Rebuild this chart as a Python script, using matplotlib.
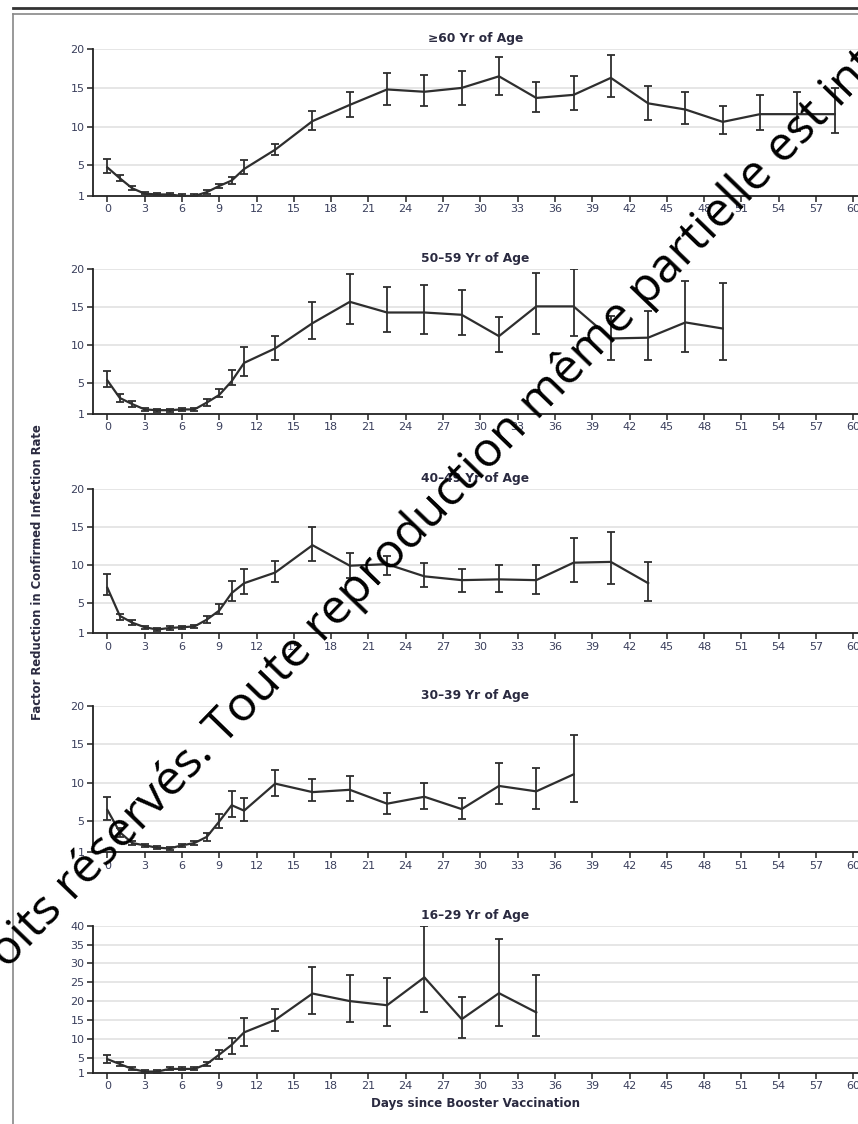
import numpy as np
import matplotlib

matplotlib.use("Agg")
from matplotlib import pyplot as plt
from matplotlib.lines import Line2D
from matplotlib.textpath import TextPath
from matplotlib.font_manager import FontProperties

# days after booster (x positions of the points)
days = [0, 1, 2, 3, 4, 5, 6, 7, 8, 9, 10, 11,
        13.5, 16.5, 19.5, 22.5, 25.5, 28.5, 31.5, 34.5, 37.5,
        40.5, 43.5, 46.5, 49.5, 52.5, 55.5, 58.5]

titles = ['\u226560 Yr of Age', '50\u201359 Yr of Age', '40\u201349 Yr of Age',
          '30\u201339 Yr of Age', '16\u201329 Yr of Age']

# factor reduction, lower and upper CI for each age group
age60_val = [4.7, 3.3, 2.0, 1.3, 1.2, 1.2, 1.0, 1.0, 1.5, 2.3, 3.0, 4.5,
             7.0, 10.7, 12.8, 14.8, 14.5, 15.0, 16.5, 13.7, 14.1,
             16.3, 13.0, 12.2, 10.6, 11.6, 11.6, 11.6]
age60_lo = [4.0, 2.9, 1.8, 1.2, 1.1, 1.1, 0.9, 0.9, 1.3, 2.0, 2.6, 3.8,
            6.3, 9.5, 11.2, 12.8, 12.7, 12.8, 14.1, 11.9, 12.2,
            13.8, 10.9, 10.3, 9.0, 9.5, 9.4, 9.1]
age60_hi = [5.8, 3.7, 2.3, 1.5, 1.4, 1.4, 1.2, 1.2, 1.8, 2.6, 3.5, 5.6,
            7.7, 12.0, 14.5, 16.9, 16.7, 17.2, 19.0, 15.8, 16.5,
            19.3, 15.2, 14.5, 12.6, 14.1, 14.5, 15.0]

age50_val = [5.4, 3.1, 2.3, 1.6, 1.5, 1.5, 1.6, 1.6, 2.5, 3.5, 5.3, 7.7,
             9.6, 12.9, 15.7, 14.3, 14.3, 14.0, 11.2, 15.1, 15.1,
             10.9, 11.0, 13.0, 12.2]
age50_lo = [4.5, 2.6, 1.9, 1.4, 1.3, 1.3, 1.4, 1.4, 2.1, 3.2, 4.8, 6.0,
            8.1, 10.8, 12.8, 11.7, 11.5, 11.3, 9.1, 11.5, 11.2,
            8.1, 8.1, 9.1, 8.1]
age50_hi = [6.6, 3.6, 2.7, 1.8, 1.7, 1.7, 1.8, 1.8, 3.0, 4.3, 6.8, 9.8,
            11.2, 15.7, 19.3, 17.6, 17.9, 17.3, 13.7, 19.5, 20.0,
            13.9, 14.5, 18.4, 18.1]

age40_val = [7.0, 3.3, 2.4, 1.8, 1.5, 1.7, 1.8, 1.9, 2.8, 4.0, 6.3, 7.6,
             9.0, 12.6, 9.9, 10.1, 8.5, 8.0, 8.1, 8.0, 10.3,
             10.4, 7.6]
age40_lo = [6.0, 2.7, 2.1, 1.6, 1.3, 1.5, 1.6, 1.7, 2.4, 3.6, 5.3, 6.2,
            7.8, 10.5, 8.3, 8.7, 7.1, 6.5, 6.5, 6.2, 7.8,
            7.5, 5.3]
age40_hi = [8.8, 3.6, 2.7, 2.0, 1.7, 1.9, 2.0, 2.1, 3.3, 4.9, 7.9, 9.5,
            10.5, 15.0, 11.6, 11.2, 10.3, 9.5, 10.0, 10.0, 13.5,
            14.3, 10.4]

age30_val = [6.5, 3.6, 2.2, 1.9, 1.6, 1.5, 1.9, 2.2, 3.0, 5.0, 7.1, 6.4,
             9.9, 8.8, 9.1, 7.3, 8.2, 6.6, 9.6, 8.9, 11.1]
age30_lo = [5.2, 3.0, 1.9, 1.7, 1.4, 1.3, 1.7, 1.9, 2.5, 4.1, 5.6, 5.0,
            8.3, 7.6, 7.6, 6.0, 6.6, 5.3, 7.3, 6.6, 7.5]
age30_hi = [8.2, 4.2, 2.5, 2.1, 1.8, 1.7, 2.1, 2.5, 3.5, 5.9, 9.0, 8.0,
            11.7, 10.5, 10.9, 8.7, 10.0, 8.0, 12.6, 11.9, 16.2]

age16_val = [4.6, 3.3, 2.0, 1.3, 1.3, 2.0, 2.0, 2.0, 3.3, 5.8, 8.4, 11.7,
             15.0, 22.0, 20.0, 18.9, 26.3, 15.2, 22.1, 17.0]
age16_lo = [3.7, 2.8, 1.6, 1.0, 1.0, 1.6, 1.6, 1.6, 2.8, 4.6, 6.0, 8.1,
            12.0, 16.5, 14.5, 13.5, 17.0, 10.3, 13.5, 10.7]
age16_hi = [5.7, 3.8, 2.4, 1.6, 1.6, 2.4, 2.4, 2.4, 3.9, 7.1, 10.2, 15.6,
            18.0, 29.0, 27.0, 26.0, 40.0, 21.0, 36.5, 27.0]

groups = [
    (age60_val, age60_lo, age60_hi, 20),
    (age50_val, age50_lo, age50_hi, 20),
    (age40_val, age40_lo, age40_hi, 20),
    (age30_val, age30_lo, age30_hi, 20),
    (age16_val, age16_lo, age16_hi, 40),
]

watermark = 'Tous droits r\u00e9serv\u00e9s. Toute reproduction m\u00eame partielle est interdite.'

W, H = 858, 1124
fig = plt.figure(figsize=(W / 100, H / 100), dpi=100)
plt.rcParams['font.family'] = ['DejaVu Sans']

txt_col = '#3a3f5c'
line_col = '#2e2e2e'

# top and bottom pixel rows of each panel
panel_px = [(49.3, 196), (269, 414), (489, 633.3), (705.7, 852.3), (925.7, 1072.7)]
left_px = 92.7

for (top, bot), title, (val, lo, hi, ymax) in zip(panel_px, titles, groups):
    ax = fig.add_axes([left_px / W, 1 - bot / H, 1 - left_px / W, (bot - top) / H])
    x = days[:len(val)]
    err = [[v - l for v, l in zip(val, lo)], [h - v for v, h in zip(val, hi)]]
    ax.errorbar(x, val, yerr=err, color=line_col, lw=1.6, elinewidth=1.3,
                capsize=3, capthick=1.3, zorder=3)
    ax.set_xlim(-1.18, 60.38)
    ax.set_ylim(1, ymax)
    ax.set_xticks(range(0, 61, 3))
    ax.set_yticks([1] + list(range(5, ymax + 1, 5)))
    for g in range(5, ymax + 1, 5):
        ax.axhline(g, color='#e2e2e2', lw=1.2, zorder=1)
    for s in ['top', 'right']:
        ax.spines[s].set_visible(False)
    for s in ['left', 'bottom']:
        ax.spines[s].set_color('#222222')
        ax.spines[s].set_linewidth(1.3)
    ax.tick_params(direction='out', length=4, width=1.1, color='#222222',
                   labelsize=8, labelcolor=txt_col, pad=2)
    ax.set_title(title, fontsize=8.8, fontweight='bold', color='#2a2a40', pad=5)
    if ymax == 40:
        ax.set_xlabel('Days since Booster Vaccination', fontsize=8.6,
                      fontweight='bold', color='#2a2a40', labelpad=4)

fig.text(38 / W, 1 - 572 / H, 'Factor Reduction in Confirmed Infection Rate',
         rotation=90, ha='center', va='center', fontsize=8.4, fontweight='bold',
         color='#2a2a40')

# frame lines
fig.add_artist(Line2D([13 / W, 1], [1 - 8 / H, 1 - 8 / H], color='#333333', lw=2))
fig.add_artist(Line2D([13 / W, 1], [1 - 14 / H, 1 - 14 / H], color='#888888', lw=1.2))
fig.add_artist(Line2D([13 / W, 13 / W], [0, 1 - 14 / H], color='#888888', lw=1.2))

# watermark: put the "o" of "droits" and the "n" of "in" where the reference has them
fp = FontProperties(family='Open Sans')


def ink_right(s):
    return TextPath((0, 0), s, size=1, prop=fp).get_extents().x1


def ink_width(s):
    return TextPath((0, 0), s, size=1, prop=fp).get_extents().width


i_o = watermark.index('oits')
i_n = watermark.index('est in') + 5
c_o = ink_right(watermark[:i_o + 1]) - ink_width('o') / 2
c_n = ink_right(watermark[:i_n + 1]) - ink_width('n') / 2
o_px = np.array([8.0, H - 950.0])
n_px = np.array([848.0, H - 80.0])
d = n_px - o_px
theta = np.degrees(np.arctan2(d[1], d[0]))
fs = np.hypot(*d) * 0.72 / (c_n - c_o)
u = d / np.hypot(*d)
nrm = np.array([-u[1], u[0]])
em_px = fs / 0.72
base_o = o_px - 0.27 * em_px * nrm
start = base_o - c_o * em_px * u
fig.text(start[0] / W, start[1] / H, watermark, rotation=theta,
         rotation_mode='anchor', ha='left', va='baseline',
         fontsize=fs, fontproperties=fp, color='black', zorder=10)

fig.savefig('out.png', dpi=100)
